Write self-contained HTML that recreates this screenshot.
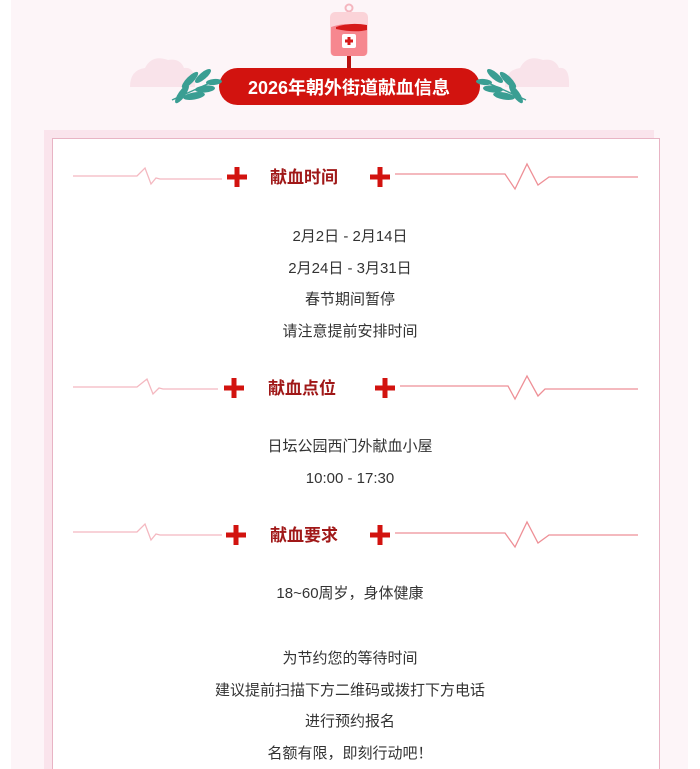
<!DOCTYPE html>
<html><head><meta charset="utf-8"><style>
html,body{margin:0;padding:0;width:700px;height:769px;overflow:hidden;background:#fff;}
body{position:relative;font-family:"Liberation Sans","Noto Sans CJK SC",sans-serif;}
.outer{position:absolute;left:11px;top:0;width:677px;height:769px;background:#fdf5f8;}
.band{position:absolute;left:44px;top:130px;width:610px;height:639px;background:#fae4ec;}
.box{position:absolute;left:52px;top:138px;width:606px;height:640px;background:#fff;border:1px solid #e8b4c4;}
.t{position:absolute;left:0;width:700px;text-align:center;font-size:15px;color:#333;line-height:20px;}
.h{position:absolute;font-size:17px;font-weight:bold;color:#a01818;line-height:22px;}
</style></head><body>
<div class="outer"></div>
<div class="band"></div>
<div class="box"></div>
<svg style="position:absolute;left:0;top:0" width="700" height="769">
 <g fill="#f9e3ea">
  <path d="M130 87 Q130 70 145 68 Q152 54 168 60 Q180 58 184 68 Q196 66 195 87 Z"/>
  <path d="M505 87 Q505 70 520 68 Q527 54 543 60 Q555 58 559 68 Q570 66 569 87 Z"/>
 </g>
 <circle cx="349" cy="8" r="3.5" fill="none" stroke="#f4b6bf" stroke-width="2"/>
 <rect x="330" y="12" width="38" height="44" rx="5" fill="#fbd3d8"/>
 <path d="M331 27 Q345 22 355 26 Q362 24 367 26 L367 52 Q367 56 363 56 L335 56 Q331 56 331 52 Z" fill="#f6878f"/>
 <path d="M336 27 Q350 22 367 25 L367 30 Q355 33 336 29 Z" fill="#d61a1a"/>
 <rect x="342" y="34" width="14" height="14" rx="2" fill="#fff"/>
 <rect x="347.5" y="37" width="3" height="8" fill="#d61a1a"/>
 <rect x="345" y="39.5" width="8" height="3" fill="#d61a1a"/>
 <rect x="347" y="56" width="4" height="14" fill="#b81010"/>
 <rect x="219" y="68" width="261" height="37" rx="18.5" fill="#d2130f"/>
 <text x="349" y="94" text-anchor="middle" font-size="18" font-weight="bold" fill="#fff" font-family="Liberation Sans,Noto Sans CJK SC,sans-serif">2026年朝外街道献血信息</text>
 <g fill="#3a9e93">
  <path d="M172 100 L212 82" stroke="#3a9e93" stroke-width="1.5"/>
  <ellipse cx="190" cy="80" rx="11" ry="3.5" transform="rotate(-45 190 80)"/>
  <ellipse cx="203" cy="76" rx="10" ry="3.5" transform="rotate(-40 203 76)"/>
  <ellipse cx="182" cy="94" rx="11" ry="3.5" transform="rotate(-55 182 94)"/>
  <ellipse cx="194" cy="96" rx="11" ry="3.5" transform="rotate(-10 194 96)"/>
  <ellipse cx="205" cy="89" rx="10" ry="3.5" transform="rotate(-5 205 89)"/>
  <ellipse cx="214" cy="82" rx="8" ry="3" transform="rotate(-5 214 82)"/>
 </g>
 <g fill="#3a9e93" transform="translate(698 0) scale(-1 1)">
  <path d="M172 100 L212 82" stroke="#3a9e93" stroke-width="1.5"/>
  <ellipse cx="190" cy="80" rx="11" ry="3.5" transform="rotate(-45 190 80)"/>
  <ellipse cx="203" cy="76" rx="10" ry="3.5" transform="rotate(-40 203 76)"/>
  <ellipse cx="182" cy="94" rx="11" ry="3.5" transform="rotate(-55 182 94)"/>
  <ellipse cx="194" cy="96" rx="11" ry="3.5" transform="rotate(-10 194 96)"/>
  <ellipse cx="205" cy="89" rx="10" ry="3.5" transform="rotate(-5 205 89)"/>
  <ellipse cx="214" cy="82" rx="8" ry="3" transform="rotate(-5 214 82)"/>
 </g>
 <g fill="none" stroke-width="1.3">
  <polyline stroke="#f4b8c0" points="73,176 137,176 145,168 151,184 156,178 160,179 222,179"/>
  <polyline stroke="#ee8f96" points="395,174 505,174 515,189 527,164 538,185 549,177 638,177"/>
  <polyline stroke="#f4b8c0" points="73,387 137,387 147,379 153,394 159,388 163,389 218,389"/>
  <polyline stroke="#ee8f96" points="400,386 508,386 515,399 527,376 538,396 545,389 638,389"/>
  <polyline stroke="#f4b8c0" points="73,532 137,532 145,524 151,540 156,534 160,535 222,535"/>
  <polyline stroke="#ee8f96" points="395,533 505,533 515,547 527,522 538,543 549,535 638,535"/>
 </g>
 <g fill="#d2130f">
  <rect x="234.5" y="167" width="5" height="20"/><rect x="227" y="174.5" width="20" height="5"/>
  <rect x="377.5" y="167" width="5" height="20"/><rect x="370" y="174.5" width="20" height="5"/>
  <rect x="231.5" y="378" width="5" height="20"/><rect x="224" y="385.5" width="20" height="5"/>
  <rect x="382.5" y="378" width="5" height="20"/><rect x="375" y="385.5" width="20" height="5"/>
  <rect x="233.5" y="525" width="5" height="20"/><rect x="226" y="532.5" width="20" height="5"/>
  <rect x="377.5" y="525" width="5" height="20"/><rect x="370" y="532.5" width="20" height="5"/>
 </g>
</svg>
<div class="h" style="left:270px;top:167px">献血时间</div>
<div class="h" style="left:268px;top:378px">献血点位</div>
<div class="h" style="left:270px;top:525px">献血要求</div>
<div class="t" style="top:227px">2月2日 - 2月14日</div>
<div class="t" style="top:259px">2月24日 - 3月31日</div>
<div class="t" style="top:290px">春节期间暂停</div>
<div class="t" style="top:322px">请注意提前安排时间</div>
<div class="t" style="top:437px">日坛公园西门外献血小屋</div>
<div class="t" style="top:469px">10:00 - 17:30</div>
<div class="t" style="top:584px">18~60周岁，身体健康</div>
<div class="t" style="top:649px">为节约您的等待时间</div>
<div class="t" style="top:681px">建议提前扫描下方二维码或拨打下方电话</div>
<div class="t" style="top:712px">进行预约报名</div>
<div class="t" style="top:744px">名额有限，即刻行动吧！</div>
</body></html>
